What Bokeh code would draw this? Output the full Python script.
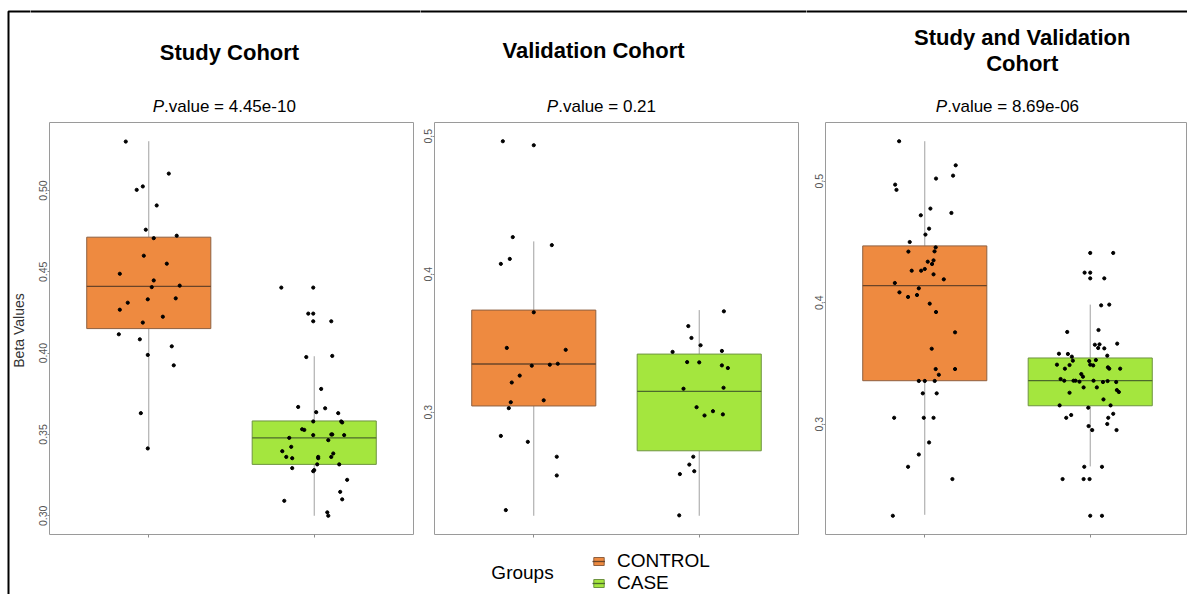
from bokeh.plotting import figure
from bokeh.models import (Range1d, FixedTicker, PrintfTickFormatter, Label, BoxAnnotation,
                          Legend, LegendItem, ColumnDataSource)
from bokeh.layouts import row, column
from bokeh.embed import file_html
from bokeh.resources import INLINE

# ---------------------------------------------------------------- data
groups = ["CONTROL", "CASE"]
panel_titles = [["Study Cohort"], ["Validation Cohort"], ["Study and Validation", "Cohort"]]
p_values = ["4.45e-10", "0.21", "8.69e-06"]
y_label = "Beta Values"
legend_title = "Groups"

# box statistics: lower whisker, Q1, median, Q3, upper whisker
study_box_control = [0.3414, 0.4151, 0.4411, 0.4713, 0.5303]
study_box_case = [0.3000, 0.3316, 0.3479, 0.3583, 0.3981]
valid_box_control = [0.2249, 0.3045, 0.3349, 0.3740, 0.4238]
valid_box_case = [0.2249, 0.2720, 0.3151, 0.3421, 0.3740]
all_box_control = [0.2255, 0.3358, 0.4140, 0.4467, 0.5328]
all_box_case = [0.2653, 0.3152, 0.3358, 0.3545, 0.3984]

# individual samples (beta value) and their horizontal jitter (in category units)
study_control = [0.5301, 0.5104, 0.5004, 0.5025, 0.4908, 0.4759, 0.4707, 0.4722, 0.4599,
                 0.4550, 0.4488, 0.4447, 0.4406, 0.4415, 0.4310, 0.4331, 0.4337, 0.4267,
                 0.4224, 0.4188, 0.4116, 0.4085, 0.4042, 0.3989, 0.3925, 0.3631, 0.3414]
study_control_jit = [-0.139, 0.121, -0.073, -0.036, 0.048, -0.018, 0.030, 0.169, -0.030,
                     0.109, -0.175, 0.030, 0.018, 0.187, -0.127, -0.006, 0.163, -0.175,
                     0.085, -0.036, -0.181, -0.054, 0.139, -0.006, 0.151, -0.048, -0.006]
study_case = [0.4403, 0.4403, 0.4243, 0.4243, 0.4196, 0.4196, 0.3976, 0.3983, 0.3780,
              0.3669, 0.3661, 0.3637, 0.3631, 0.3580, 0.3580, 0.3574, 0.3532, 0.3528,
              0.3496, 0.3500, 0.3500, 0.3496, 0.3479, 0.3465, 0.3424, 0.3397, 0.3362,
              0.3354, 0.3362, 0.3354, 0.3362, 0.3383, 0.3316, 0.3316, 0.3293, 0.3274,
              0.3281, 0.3221, 0.3147, 0.3101, 0.3092, 0.3021, 0.3000]
study_case_jit = [-0.199, -0.006, -0.036, -0.006, -0.006, 0.103, -0.048, 0.109, 0.042,
                  -0.097, 0.066, 0.012, 0.145, -0.006, 0.163, 0.169, -0.073, -0.060,
                  -0.006, 0.103, 0.109, 0.181, -0.151, 0.085, -0.139, -0.193, -0.169,
                  -0.133, 0.024, 0.024, 0.103, 0.115, 0.018, 0.151, -0.133, -0.006,
                  0.000, 0.199, 0.157, 0.169, -0.181, 0.079, 0.085]

valid_control = [0.4964, 0.4935, 0.4269, 0.4211, 0.4111, 0.4075, 0.3724, 0.3466, 0.3452,
                 0.3337, 0.3344, 0.3351, 0.3265, 0.3215, 0.3072, 0.3086, 0.3029, 0.2828,
                 0.2785, 0.2677, 0.2541, 0.2290]
valid_control_jit = [-0.187, 0.000, -0.127, 0.109, -0.145, -0.199, 0.000, -0.163, 0.193,
                     -0.012, 0.097, 0.145, -0.085, -0.133, -0.139, 0.060, -0.151, -0.199,
                     -0.036, 0.139, 0.139, -0.169]
valid_case = [0.3731, 0.3624, 0.3538, 0.3485, 0.3437, 0.3444, 0.3363, 0.3361, 0.3339,
              0.3320, 0.3170, 0.3177, 0.3036, 0.2976, 0.3007, 0.2984, 0.2677, 0.2620,
              0.2572, 0.2551, 0.2252]
valid_case_jit = [0.149, -0.066, -0.047, 0.008, -0.161, 0.137, -0.073, 0.000, 0.137,
                  0.173, -0.095, 0.147, -0.016, 0.032, 0.083, 0.143, -0.036, -0.060,
                  -0.030, -0.117, -0.121]

all_control = [0.5328, 0.5130, 0.5045, 0.5021, 0.4971, 0.4928, 0.4774, 0.4738, 0.4719,
               0.4609, 0.4560, 0.4499, 0.4455, 0.4420, 0.4422, 0.4348, 0.4337, 0.4318,
               0.4277, 0.4263, 0.4263, 0.4233, 0.4192, 0.4162, 0.4118, 0.4085, 0.4063,
               0.4047, 0.3992, 0.3923, 0.3756, 0.3621, 0.3454, 0.3454, 0.3407, 0.3356,
               0.3356, 0.3356, 0.3254, 0.3254, 0.3053, 0.3053, 0.3053, 0.2850, 0.2751,
               0.2650, 0.2549, 0.2247]
all_control_jit = [-0.155, 0.187, 0.171, 0.068, -0.179, -0.171, 0.034, 0.161, -0.024,
                   0.026, 0.004, -0.091, 0.066, -0.099, 0.059, 0.053, 0.018, 0.044,
                   0.000, -0.022, -0.079, 0.053, 0.115, -0.181, -0.036, -0.153, -0.047,
                   -0.101, 0.030, 0.068, 0.183, 0.042, 0.066, 0.183, 0.085, -0.036,
                   0.000, 0.060, -0.012, 0.072, -0.185, -0.006, 0.053, 0.026, -0.036,
                   -0.101, 0.167, -0.193]
all_case = [0.4409, 0.4409, 0.4247, 0.4247, 0.4200, 0.4200, 0.3978, 0.3984, 0.3759,
            0.3775, 0.3654, 0.3657, 0.3663, 0.3627, 0.3624, 0.3580, 0.3578, 0.3556,
            0.3564, 0.3523, 0.3520, 0.3528, 0.3490, 0.3487, 0.3490, 0.3484, 0.3468,
            0.3457, 0.3457, 0.3457, 0.3413, 0.3391, 0.3372, 0.3358, 0.3358, 0.3358,
            0.3350, 0.3358, 0.3347, 0.3355, 0.3347, 0.3303, 0.3303, 0.3259, 0.3281,
            0.3265, 0.3204, 0.3155, 0.3155, 0.3136, 0.3076, 0.3053, 0.3086, 0.3053,
            0.2985, 0.2952, 0.3002, 0.2952, 0.2650, 0.2650, 0.2549, 0.2549, 0.2549,
            0.2247, 0.2247]
all_case_jit = [0.000, 0.139, -0.034, 0.000, 0.000, 0.085, 0.066, 0.115, -0.139,
                0.050, 0.028, 0.056, 0.163, 0.048, 0.085, -0.189, -0.135, -0.111,
                0.103, -0.105, -0.006, 0.034, -0.201, -0.125, 0.000, 0.018, 0.107,
                0.115, 0.181, -0.153, -0.054, -0.044, -0.179, -0.157, -0.101, -0.089,
                -0.065, 0.020, 0.077, 0.105, 0.157, -0.040, 0.040, -0.125, 0.161,
                0.173, 0.080, -0.185, 0.123, -0.012, -0.115, -0.145, 0.139, 0.109,
                -0.010, 0.012, 0.103, 0.159, -0.036, 0.071, -0.167, -0.040, -0.004,
                0.000, 0.071]

y_ticks_study = [0.30, 0.35, 0.40, 0.45, 0.50]
y_ticks_other = [0.3, 0.4, 0.5]

# ---------------------------------------------------------------- styling
FONT = "Liberation Sans"
FILLS = {"CONTROL": "#EE8A40", "CASE": "#A4E63E"}
EDGES = {"CONTROL": "#8E6040", "CASE": "#6E9440"}
MEDIANS = {"CONTROL": "#6A4428", "CASE": "#4C6A2C"}
WHISKER = "#A0A0A0"
FRAME = "#9A9A9A"
PAGE_H = 594
HEAD_H = 120                 # band holding the panel headings
FRAME_H = 412
BOX_WIDTH = 0.75
UNITS_PER_PX = 2.2 / 364     # category units per pixel of plot frame


def blank(width, height):
    """A bare canvas (no axes) whose data space is its own pixel grid, y upward."""
    p = figure(width=width, height=height, output_backend="svg", toolbar_location=None,
               x_range=Range1d(0, width), y_range=Range1d(0, height),
               x_axis_type=None, y_axis_type=None, title_location=None, frame_align=False,
               min_border_left=0, min_border_right=0, min_border_top=0, min_border_bottom=0)
    p.outline_line_color = None
    p.grid.visible = False
    p.background_fill_color = "white"
    p.border_fill_color = "white"
    return p


def outer_rule(p, left=None):
    """Heavy black rule along the top (and optionally left) edge of the figure."""
    h = p.height
    p.add_layout(BoxAnnotation(left=-50 if left is None else left, right=p.width + 50,
                               top=h - 11, bottom=-50, fill_alpha=0,
                               line_color="black", line_alpha=1.0, line_width=2))


def header(width, title_lines, title_ys, title_cx, pval, pval_x):
    p = blank(width, HEAD_H)
    for text, cy in zip(title_lines, title_ys):
        p.add_layout(Label(x=title_cx, y=HEAD_H - cy, text=text, text_align="center",
                           text_baseline="middle", text_font=FONT, text_font_size="22px",
                           text_font_style="bold", text_color="black"))
    p.add_layout(Label(x=pval_x, y=HEAD_H - 106, text="P", text_align="right",
                       text_baseline="middle", text_font=FONT, text_font_size="17px",
                       text_font_style="italic", text_color="black"))
    p.add_layout(Label(x=pval_x, y=HEAD_H - 106, text=".value = " + pval, text_align="left",
                       text_baseline="middle", text_font=FONT, text_font_size="17px",
                       text_color="black"))
    outer_rule(p)
    return p


def panel(series, ticks, fmt, width, left, right, bottom):
    frame_w = width - left - right
    vals = [v for grp in series for v in grp[1] + grp[3]]
    lo, hi = min(vals), max(vals)
    pad = 0.05 * (hi - lo)
    p = figure(width=width, height=2 + FRAME_H + bottom, output_backend="svg",
               toolbar_location=None, title_location=None, frame_align=False,
               x_range=Range1d(0.4, 0.4 + frame_w * UNITS_PER_PX),
               y_range=Range1d(lo - pad, hi + pad),
               min_border_left=left, min_border_right=right,
               min_border_top=2, min_border_bottom=bottom)
    p.grid.visible = False
    p.outline_line_color = FRAME
    p.outline_line_width = 1
    p.background_fill_color = "white"
    p.border_fill_color = "white"

    xa = p.xaxis[0]
    xa.ticker = FixedTicker(ticks=[1, 2])
    xa.major_label_text_font_size = "1px"
    xa.major_label_text_color = None
    xa.major_label_standoff = 0
    xa.axis_line_color = None
    xa.major_tick_line_color = "#8C8C8C"
    xa.major_tick_out = 3
    xa.major_tick_in = 0
    xa.minor_tick_line_color = None

    ya = p.yaxis[0]
    ya.ticker = FixedTicker(ticks=ticks)
    ya.formatter = PrintfTickFormatter(format=fmt)
    ya.major_label_orientation = "vertical"
    ya.major_label_text_font = FONT
    ya.major_label_text_font_size = "10.5px"
    ya.major_label_text_color = "#555555"
    ya.major_label_standoff = 0
    ya.axis_line_color = None
    ya.major_tick_line_color = "#8C8C8C"
    ya.major_tick_out = 2
    ya.major_tick_in = 0
    ya.minor_tick_line_color = None

    for grp, values, jitter, box in series:
        x0 = groups.index(grp) + 1
        src = ColumnDataSource(dict(x=[x0], xl=[x0 - BOX_WIDTH / 2], xr=[x0 + BOX_WIDTH / 2],
                                    lw=[box[0]], q1=[box[1]], med=[box[2]],
                                    q3=[box[3]], uw=[box[4]]))
        p.segment(x0="x", y0="lw", x1="x", y1="q1", source=src, line_color=WHISKER, line_width=1)
        p.segment(x0="x", y0="q3", x1="x", y1="uw", source=src, line_color=WHISKER, line_width=1)
        p.vbar(x="x", width=BOX_WIDTH, bottom="q1", top="q3", source=src,
               fill_color=FILLS[grp], line_color=EDGES[grp], line_width=1)
        p.segment(x0="xl", y0="med", x1="xr", y1="med", source=src,
                  line_color=MEDIANS[grp], line_width=1.3)
        p.scatter(x=[x0 + j for j in jitter], y=values, size=3.2,
                  fill_color="black", line_color="black")
    return p


def legend_strip(width, height):
    p = blank(width, height)
    items = []
    for grp in groups:
        # key glyphs only: one off-canvas box per group supplies the legend swatch
        src = ColumnDataSource(dict(x=[-100], xl=[-110], xr=[-90], y0=[-100], y1=[-90], ym=[-95]))
        rb = p.quad(left="xl", right="xr", bottom="y0", top="y1", source=src,
                    fill_color=FILLS[grp], line_color=EDGES[grp], line_width=1)
        rm = p.segment(x0="xl", y0="ym", x1="xr", y1="ym", source=src,
                       line_color=MEDIANS[grp], line_width=1.3)
        items.append(LegendItem(label=grp, renderers=[rb, rm]))
    lg = Legend(items=items, location=(172, 0), orientation="vertical",
                glyph_width=13, glyph_height=10, label_standoff=12, spacing=0,
                padding=0, margin=0, border_line_color=None, background_fill_alpha=0,
                label_text_font=FONT, label_text_font_size="19px", label_height=21,
                label_text_line_height=1.1, label_text_color="black")
    p.add_layout(lg)
    p.add_layout(Label(x=102, y=height - 28, text=legend_title, text_align="center",
                       text_baseline="middle", text_font=FONT, text_font_size="19px",
                       text_color="black"))
    return p


# left margin strip: y-axis title and the outer rule's vertical edge
strip = blank(30, PAGE_H)
outer_rule(strip, left=8)
strip.add_layout(Label(x=18, y=PAGE_H - 330, text=y_label, angle=1.5707963,
                       text_align="center", text_baseline="middle", text_font=FONT,
                       text_font_size="14px", text_color="#333333"))

h1 = header(390, panel_titles[0], [52], 199, p_values[0], 133.5)
f1 = panel([("CONTROL", study_control, study_control_jit, study_box_control),
            ("CASE", study_case, study_case_jit, study_box_case)],
           y_ticks_study, "%.2f", 390, 19, 7, 60)

h2 = header(386, panel_titles[1], [50], 173, p_values[1], 137.7)
f2 = panel([("CONTROL", valid_control, valid_control_jit, valid_box_control),
            ("CASE", valid_case, valid_case_jit, valid_box_case)],
           y_ticks_other, "%.1f", 386, 14, 8, 10)
g2 = legend_strip(386, PAGE_H - HEAD_H - (2 + FRAME_H + 10))

h3 = header(381, panel_titles[2], [37, 63], 215.7, p_values[2], 140.7)
f3 = panel([("CONTROL", all_control, all_control_jit, all_box_control),
            ("CASE", all_case, all_case_jit, all_box_case)],
           y_ticks_other, "%.1f", 381, 19, 0, 60)

layout = row(strip, column(h1, f1), column(h2, f2, g2), column(h3, f3))
open("out.html", "w").write(file_html(layout, INLINE))
